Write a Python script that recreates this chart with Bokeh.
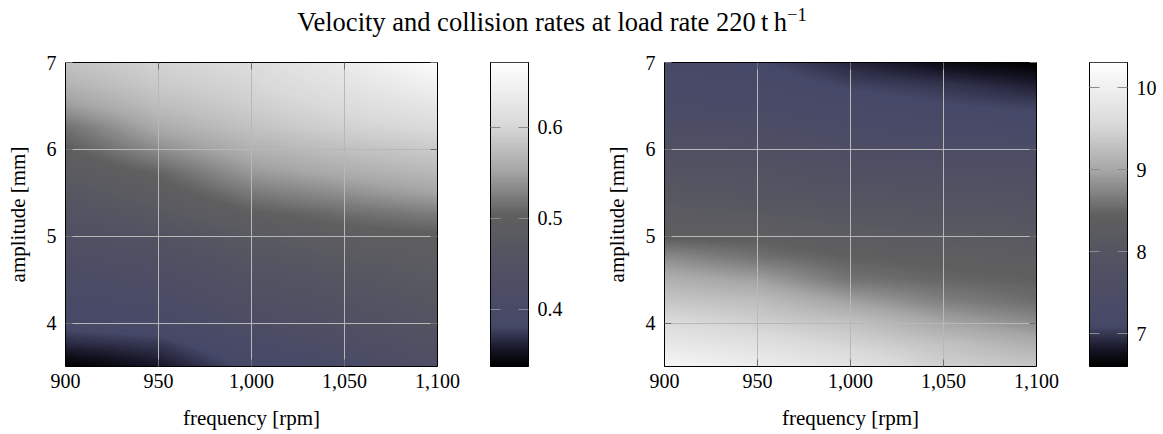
import numpy as np
from bokeh.plotting import figure
from bokeh.models import LinearColorMapper, LinearAxis, FixedTicker, NumeralTickFormatter, Div, Range1d
from bokeh.layouts import row, column
from bokeh.embed import file_html
from bokeh.resources import INLINE

# ---------------- data ----------------
TITLE = ("Velocity and collision rates at load rate 220&thinsp;t&thinsp;h"
         "<sup style='font-size:70%;line-height:0'>&minus;1</sup>")
X_LABEL = "frequency [rpm]"
Y_LABEL = "amplitude [mm]"

freq = [900, 950, 1000, 1050, 1100]
amplitude = [3.5, 3.75, 4.0, 4.25, 4.5, 4.75, 5.0, 5.25, 5.5, 5.75, 6.0, 6.25, 6.5, 6.75, 7.0]

# rows follow amplitude (bottom to top), columns follow freq
velocity = [
    [0.337, 0.355, 0.385, 0.400, 0.430],
    [0.365, 0.372, 0.400, 0.420, 0.445],
    [0.388, 0.395, 0.420, 0.440, 0.460],
    [0.398, 0.408, 0.435, 0.452, 0.470],
    [0.410, 0.422, 0.450, 0.465, 0.480],
    [0.425, 0.438, 0.465, 0.480, 0.490],
    [0.440, 0.455, 0.480, 0.495, 0.500],
    [0.455, 0.475, 0.500, 0.512, 0.523],
    [0.470, 0.492, 0.522, 0.537, 0.552],
    [0.485, 0.508, 0.545, 0.560, 0.572],
    [0.500, 0.535, 0.563, 0.578, 0.588],
    [0.515, 0.557, 0.580, 0.595, 0.605],
    [0.545, 0.575, 0.592, 0.607, 0.625],
    [0.565, 0.588, 0.600, 0.620, 0.645],
    [0.580, 0.597, 0.608, 0.632, 0.665],
]

collision = [
    [10.15, 9.95, 9.75, 9.45, 9.35],
    [9.85, 9.70, 9.50, 9.30, 9.10],
    [9.60, 9.45, 9.30, 9.00, 8.80],
    [9.35, 9.25, 8.95, 8.70, 8.55],
    [9.10, 8.95, 8.60, 8.50, 8.45],
    [8.80, 8.60, 8.45, 8.40, 8.35],
    [8.40, 8.40, 8.27, 8.20, 8.15],
    [8.27, 8.20, 8.10, 8.05, 8.00],
    [8.10, 8.00, 7.95, 7.90, 7.85],
    [7.95, 7.90, 7.75, 7.70, 7.65],
    [7.75, 7.70, 7.55, 7.45, 7.45],
    [7.55, 7.50, 7.35, 7.25, 7.20],
    [7.35, 7.30, 7.20, 7.10, 7.05],
    [7.25, 7.20, 7.05, 6.98, 6.85],
    [7.20, 7.10, 6.90, 6.72, 6.60],
]

freq_ticks = [900, 950, 1000, 1050, 1100]
amp_ticks = [4, 5, 6, 7]
velocity_ticks = [0.4, 0.5, 0.6]
collision_ticks = [7, 8, 9, 10]
velocity_limits = [0.337, 0.671]
collision_limits = [6.60, 10.31]

# ---------------- style ----------------
CMAP_STOPS = [
    (0.00, 0, 0, 0),
    (0.05, 20, 20, 36),
    (0.13, 70, 72, 104),
    (0.35, 82, 82, 98),
    (0.50, 96, 96, 96),
    (0.65, 168, 168, 168),
    (0.80, 218, 218, 218),
    (1.00, 255, 255, 255),
]
FONT = "Liberation Serif"
FS = "20px"
LABEL_FS = "21px"
TICK_GRAY = "#6e6e6e"
CB_TICK_GRAY = "#8c8c8c"
GRID_GRAY = "#b8b8b8"
FRAME_W, FRAME_H = 372, 304
CB_W = 38
TOP_B, BOT_B = 22, 68


def make_palette(n=256):
    pos = [s[0] for s in CMAP_STOPS]
    t = np.linspace(0, 1, n)
    ch = [np.interp(t, pos, [s[i] for s in CMAP_STOPS]) for i in (1, 2, 3)]
    return ["#%02x%02x%02x" % (int(round(r)), int(round(g)), int(round(b))) for r, g, b in zip(*ch)]


PALETTE = make_palette()


def shade(xs, ys, grid, nx=FRAME_W, ny=FRAME_H):
    # smooth (bilinear) shading of the read grid for display, like shader=interp
    g = np.asarray(grid, float)
    xf = np.linspace(xs[0], xs[-1], nx)
    yf = np.linspace(ys[0], ys[-1], ny)
    tmp = np.array([np.interp(xf, xs, r) for r in g])
    out = np.array([np.interp(yf, ys, tmp[:, j]) for j in range(nx)]).T
    return out


def style_axis(ax, ticks, tick_color, tick_len, show_labels=True):
    ax.ticker = FixedTicker(ticks=ticks)
    ax.major_tick_in = tick_len
    ax.major_tick_out = 0
    ax.minor_tick_line_color = None
    ax.major_tick_line_color = tick_color
    ax.axis_line_color = "black"
    ax.major_label_text_font = FONT
    ax.major_label_text_color = "black"
    ax.axis_label_text_font = FONT
    ax.axis_label_text_font_size = LABEL_FS
    ax.axis_label_text_font_style = "normal"
    ax.axis_label_text_color = "black"
    if show_labels:
        ax.major_label_text_font_size = FS
    else:
        ax.major_label_overrides = {t: "" for t in ticks}
        ax.major_label_text_font_size = "1px"
        ax.major_label_standoff = 0


def heat_panel(values, limits, border_left, border_right):
    p = figure(frame_width=FRAME_W, frame_height=FRAME_H,
               x_range=Range1d(freq[0], freq[-1]), y_range=Range1d(amplitude[0], amplitude[-1]),
               min_border_left=border_left, min_border_right=border_right,
               min_border_top=TOP_B, min_border_bottom=BOT_B,
               output_backend="svg", toolbar_location=None, margin=(0, 0, 0, 0))
    p.background_fill_color = "white"
    p.border_fill_color = "white"
    p.outline_line_color = "black"
    mapper = LinearColorMapper(palette=PALETTE, low=limits[0], high=limits[1])
    r = p.image(image=[shade(freq, amplitude, values)], x=freq[0], y=amplitude[0],
                dw=freq[-1] - freq[0], dh=amplitude[-1] - amplitude[0], color_mapper=mapper)
    r.level = "image"
    p.xgrid.ticker = FixedTicker(ticks=freq_ticks)
    p.ygrid.ticker = FixedTicker(ticks=amp_ticks)
    p.grid.grid_line_color = GRID_GRAY
    p.grid.grid_line_width = 1

    xa = p.below[0]
    ya = p.left[0]
    style_axis(xa, freq_ticks, TICK_GRAY, 7)
    style_axis(ya, amp_ticks, TICK_GRAY, 7)
    xa.formatter = NumeralTickFormatter(format="0,0")
    xa.axis_label = X_LABEL
    ya.axis_label = Y_LABEL
    xa.major_label_standoff = 7
    xa.axis_label_standoff = 15
    ya.major_label_standoff = 9
    ya.axis_label_standoff = 14

    top = LinearAxis()
    style_axis(top, freq_ticks, TICK_GRAY, 7, show_labels=False)
    p.add_layout(top, "above")
    right = LinearAxis()
    style_axis(right, amp_ticks, TICK_GRAY, 7, show_labels=False)
    p.add_layout(right, "right")
    return p


def colorbar_panel(limits, ticks, border_left, border_right):
    p = figure(frame_width=CB_W, frame_height=FRAME_H,
               x_range=Range1d(0, 1), y_range=Range1d(limits[0], limits[1]),
               x_axis_location=None, y_axis_location="right",
               min_border_left=border_left, min_border_right=border_right,
               min_border_top=TOP_B, min_border_bottom=BOT_B,
               output_backend="svg", toolbar_location=None, margin=(0, 0, 0, 0))
    p.background_fill_color = "white"
    p.border_fill_color = "white"
    p.outline_line_color = "black"
    p.grid.visible = False
    mapper = LinearColorMapper(palette=PALETTE, low=limits[0], high=limits[1])
    grad = np.linspace(limits[0], limits[1], FRAME_H).reshape(-1, 1)
    r = p.image(image=[grad], x=0, y=limits[0], dw=1, dh=limits[1] - limits[0], color_mapper=mapper)
    r.level = "image"
    ra = p.right[0]
    style_axis(ra, ticks, CB_TICK_GRAY, 10)
    ra.major_label_standoff = 9
    la = LinearAxis()
    style_axis(la, ticks, CB_TICK_GRAY, 10, show_labels=False)
    p.add_layout(la, "left")
    return p


f1 = heat_panel(velocity, velocity_limits, 65, 33)
c1 = colorbar_panel(velocity_limits, velocity_ticks, 20, 47)
f2 = heat_panel(collision, collision_limits, 89, 34)
c2 = colorbar_panel(collision_limits, collision_ticks, 19, 28)

title = Div(text=TITLE, width=1104, height=40, margin=(0, 0, 0, 0),
            styles={"font-family": "'Liberation Serif', serif", "font-size": "26.5px",
                    "line-height": "1", "height": "40px", "overflow": "visible",
                    "text-align": "center", "padding-top": "9px", "color": "black",
                    "box-sizing": "border-box"})

layout = column(title, row(f1, c1, f2, c2, margin=(0, 0, 0, 0), spacing=0),
                margin=(0, 0, 0, 0), spacing=0)

open("out.html", "w").write(file_html(layout, INLINE))
